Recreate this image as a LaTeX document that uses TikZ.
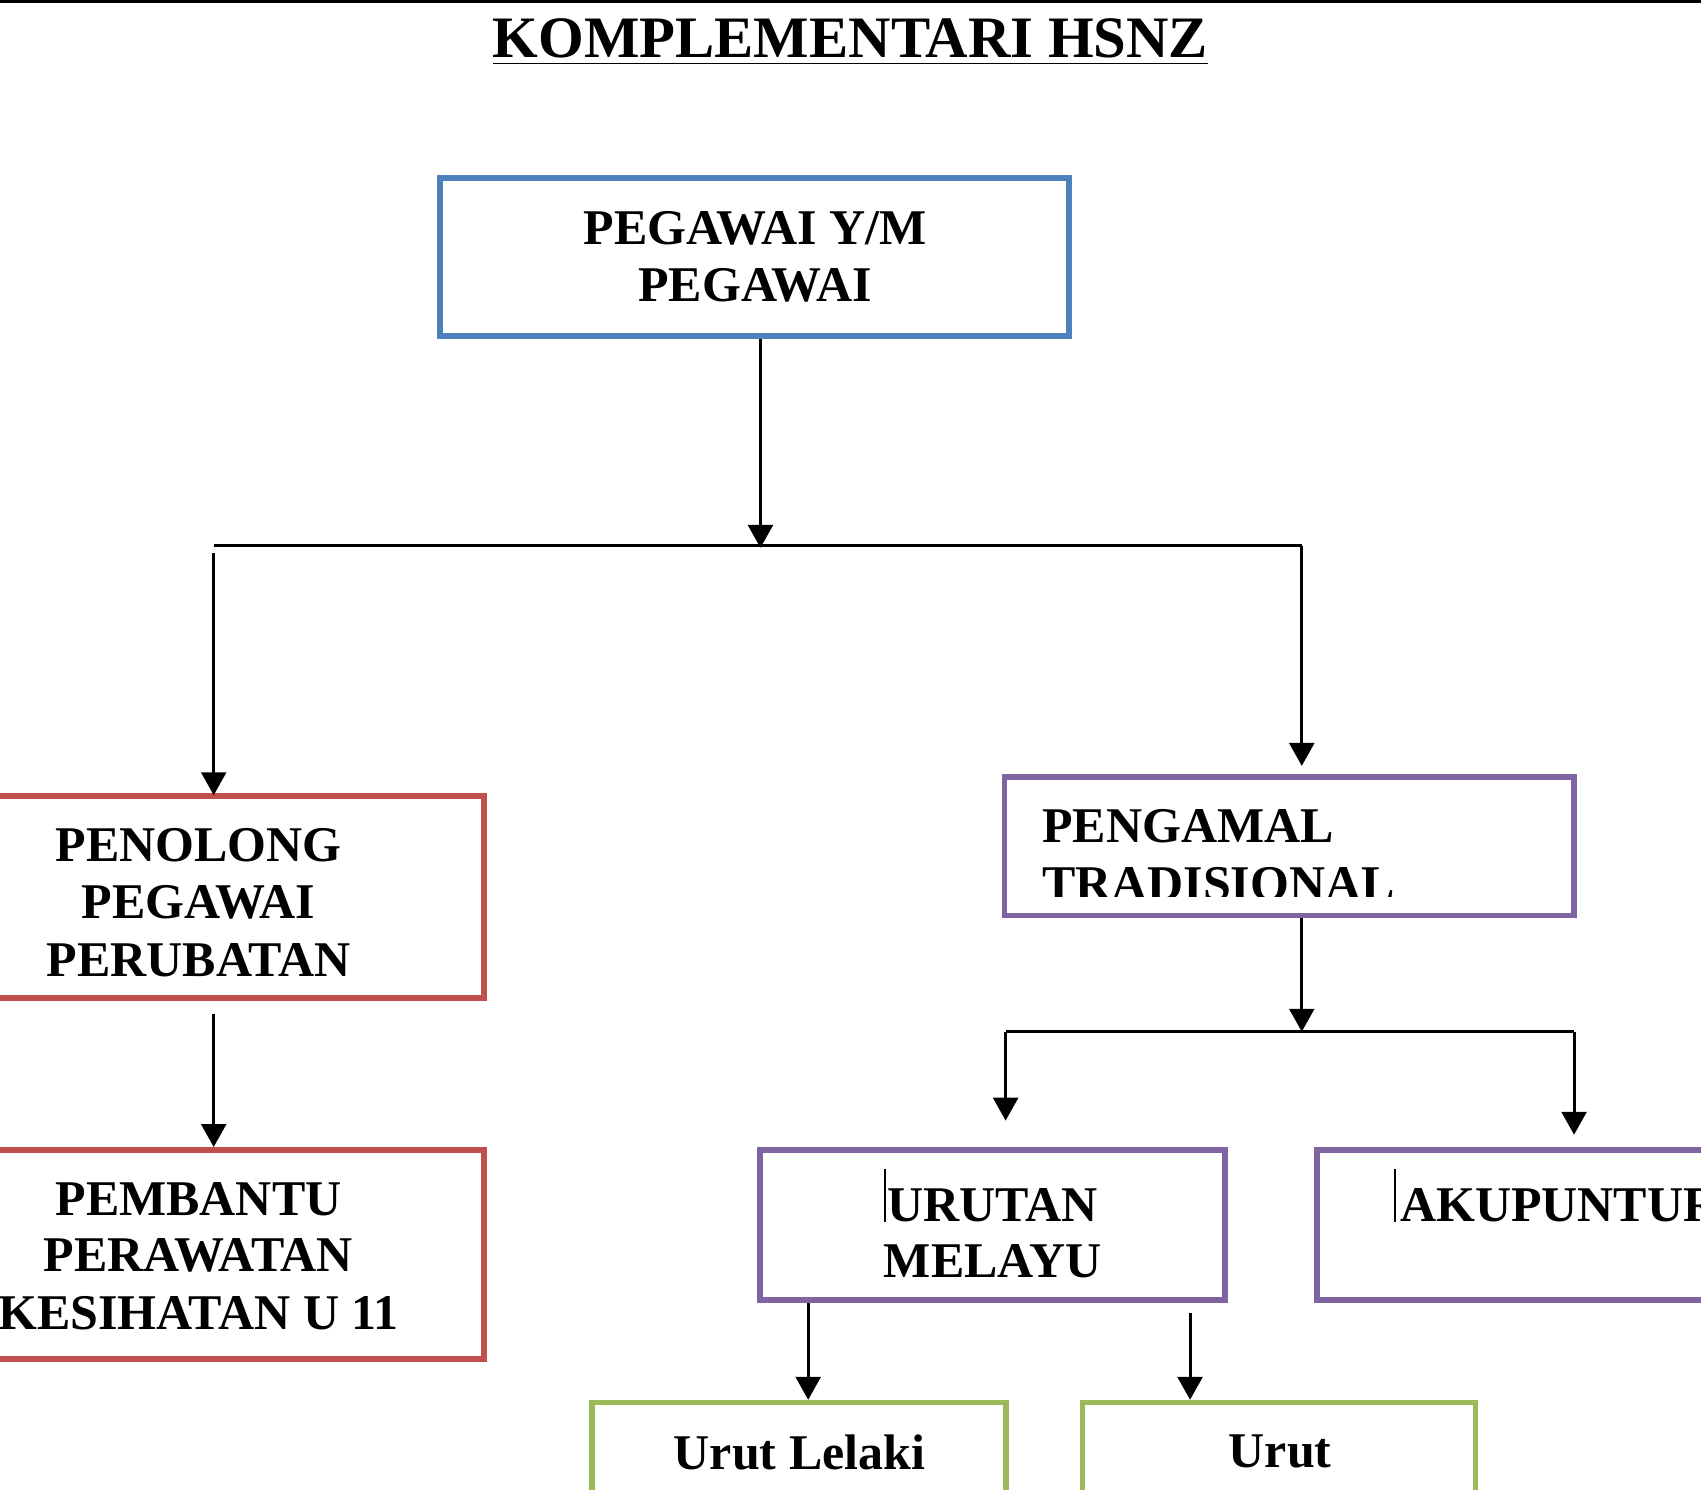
\documentclass[tikz,border=0pt]{standalone}
\usepackage{fontspec}
\setmainfont{Liberation Serif}
\usetikzlibrary{arrows.meta}
\definecolor{cblue}{RGB}{79,129,189}
\definecolor{cred}{RGB}{192,80,77}
\definecolor{cpurp}{RGB}{128,100,162}
\definecolor{cgreen}{RGB}{155,187,89}
\begin{document}
\begin{tikzpicture}[x=0.01cm,y=-0.01cm,
  box/.style={draw,line width=1.5pt,inner sep=0pt},
  txt/.style={font=\fontsize{13.1pt}{15pt}\selectfont\bfseries,inner sep=0pt,anchor=base},
  arr/.style={line width=0.8pt,-{Triangle[length=6pt,width=6.5pt]}},
  ln/.style={line width=0.8pt}]
\useasboundingbox (0,0) rectangle (1568,1373);
\clip (0,0) rectangle (1568,1373);
\draw[line width=1pt] (0,1) -- (1568,1);
\node[font=\fontsize{15.4pt}{18pt}\selectfont\bfseries,inner sep=0pt,anchor=base] (title) at (784,53) {\underline{KOMPLEMENTARI HSNZ}};
% boxes
\node[box,draw=cblue,minimum width=5.79cm,minimum height=1.46cm] (b1) at (695.5,237) {};
\node[txt] (t1a) at (696,225) {PEGAWAI Y/M};
\node[txt] (t1b) at (696,278) {PEGAWAI};
\node[box,draw=cred,minimum width=4.56cm,minimum height=1.86cm] (b2) at (218,827) {};
\node[txt] (t2a) at (183,794) {PENOLONG};
\node[txt] (t2b) at (183,847) {PEGAWAI};
\node[txt] (t2c) at (183,900) {PERUBATAN};
\node[box,draw=cred,minimum width=4.56cm,minimum height=1.93cm] (b3) at (218,1156.5) {};
\node[txt] (t3a) at (183,1120) {PEMBANTU};
\node[txt] (t3b) at (183,1172) {PERAWATAN};
\node[txt] (t3c) at (183,1226) {KESIHATAN U 11};
\node[box,draw=cpurp,minimum width=5.25cm,minimum height=1.28cm] (b4) at (1188.5,780) {};
\begin{scope}
\clip (930,720) rectangle (1447,826);
\node[txt,anchor=base west] (t4a) at (960,777) {PENGAMAL};
\node[txt,anchor=base west] (t4b) at (960,830) {TRADISIONAL};
\end{scope}
\node[box,draw=cpurp,minimum width=4.28cm,minimum height=1.38cm] (b5) at (915,1129) {};
\node[txt] (t5a) at (915,1126) {URUTAN};
\node[txt] (t5b) at (915,1178) {MELAYU};
\draw[line width=0.6pt] (816,1078) -- (816,1126);
\node[box,draw=cpurp,minimum width=3.66cm,minimum height=1.38cm] (b6) at (1397,1129) {};
\node[txt,anchor=base west] (t6) at (1290,1126) {AKUPUNTUR};
\draw[line width=0.6pt] (1286,1078) -- (1286,1126);
\node[box,draw=cgreen,minimum width=3.81cm,minimum height=1.2cm] (b7) at (736.5,1353) {};
\node[txt] (t7) at (737,1355) {Urut Lelaki};
\node[box,draw=cgreen,minimum width=3.62cm,minimum height=1.2cm] (b8) at (1179,1353) {};
\node[txt] (t8) at (1180,1353) {Urut};
% connectors
\coordinate (j1) at (701,505);
\coordinate (jl) at (197,503);
\coordinate (jr) at (1200,503);
\draw[arr] (b1.south -| j1) -- (j1);
\draw[ln] (jl) -- (jr);
\draw[arr] (197,510) -- (197,733);
\draw[arr] (jr) -- (1200,706);
\draw[arr] (197,935) -- (b3.north -| 197,0);
\coordinate (j2) at (1200,951);
\draw[arr] (b4.south -| j2) -- (j2);
\draw[ln] (927,951) -- (1451,951);
\draw[arr] (927,951) -- (927,1033);
\draw[arr] (1451,951) -- (1451,1046);
\draw[arr] (b5.south -| 745,0) -- (b7.north -| 745,0);
\draw[arr] (1097,1210) -- (b8.north -| 1097,0);
\end{tikzpicture}
\end{document}
